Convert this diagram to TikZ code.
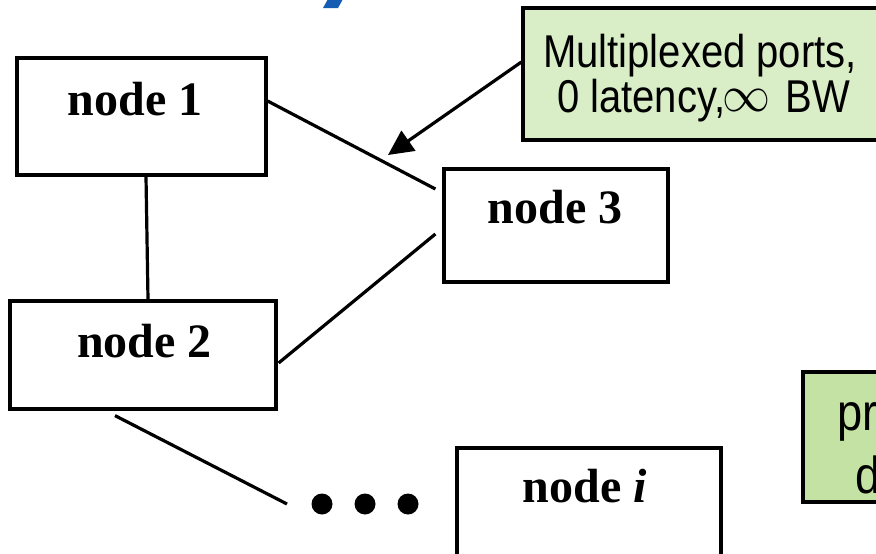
\documentclass[tikz,border=0pt]{standalone}
\usepackage{graphicx}
\usepackage{fontspec}
\setmainfont{Liberation Serif}
\newfontfamily\notefont{Liberation Sans}[FakeStretch=0.87]
\usetikzlibrary{arrows.meta}
\definecolor{notegreen}{RGB}{217,237,199}
\definecolor{delaygreen}{RGB}{196,226,163}
\definecolor{titleblue}{RGB}{20,93,178}

\begin{document}
\begin{tikzpicture}[x=1pt,y=-1pt,
  hostbox/.style={draw=black, line width=3.2pt, inner sep=0pt, fill=white},
  hostlabel/.style={font=\fontsize{48}{56}\selectfont\bfseries, inner sep=0pt, anchor=base},
  notebox/.style={draw=black, line width=3.2pt, inner sep=0pt},
  notetext/.style={font=\notefont\fontsize{46}{46}\selectfont, inner sep=0pt, anchor=base},
  delaytext/.style={font=\notefont\fontsize{52}{52}\selectfont, inner sep=0pt, anchor=base west},
  link/.style={line width=3.2pt},
  dot/.style={circle, fill=black, inner sep=0pt, minimum size=21pt}]
\useasboundingbox (0,0) rectangle (876,554);
\clip (0,0) rectangle (876,554);

% fragment of the title stroke above the picture
\fill[titleblue] (328,-1) -- (343,-1) -- (338,8) -- (323,8) -- cycle;

% hosts
\node[hostbox, minimum width=249pt, minimum height=117pt] (n1) at (141.5,116.5) {};
\node[hostbox, minimum width=266pt, minimum height=108pt] (n2) at (143,355) {};
\node[hostbox, minimum width=224pt, minimum height=113pt] (n3) at (556,225.5) {};
\node[hostbox, minimum width=264pt, minimum height=122pt] (ni) at (589,509) {};
\node[hostlabel] (n1l) at (135,115) {node 1};
\node[hostlabel] (n2l) at (144.5,357) {node 2};
\node[hostlabel] (n3l) at (555,223) {node 3};
\node[hostlabel] (nil) at (585,502) {node \textit{i}};

% ellipsis
\node[dot] (d1) at (322,504) {};
\node[dot] (d2) at (365,504) {};
\node[dot] (d3) at (408,504) {};

% links between hosts
\draw[link] ([yshift=15.5pt]n1.east) -- ([xshift=-7pt,yshift=36.5pt]n3.west);
\draw[link] ([xshift=1pt,yshift=-8pt]n2.east) -- ([xshift=-7pt,yshift=-8.5pt]n3.west);
\draw[link] ([xshift=4.5pt]n1.south) -- ([xshift=5pt]n2.north);
\draw[link] ([xshift=-28pt,yshift=-5pt]n2.south) -- ([xshift=-35pt]d1.center);

% callout on the links
\node[notebox, fill=notegreen, minimum width=357pt, minimum height=132pt] (note) at (701.5,74) {};
\node[notetext] (note1) at (700,67) {Multiplexed ports,};
\node[notetext] (note2) at (703.5,112)
  {0 latency,\hspace{-3pt}\raisebox{1pt}{\resizebox{48pt}{22pt}{$\infty$}}\hspace{15pt}BW};
\coordinate (tip) at (388,155);
\draw[link, -{Triangle[length=25pt,width=24pt]}] ([yshift=12pt]note.west) -- (tip);

% second callout at the edge
\node[notebox, fill=delaygreen, minimum width=97pt, minimum height=130pt] (delay) at (851.5,437) {};
\node[delaytext] (delay1) at (837,430) {pr};
\node[delaytext] (delay2) at (855,493) {d};
\end{tikzpicture}
\end{document}
